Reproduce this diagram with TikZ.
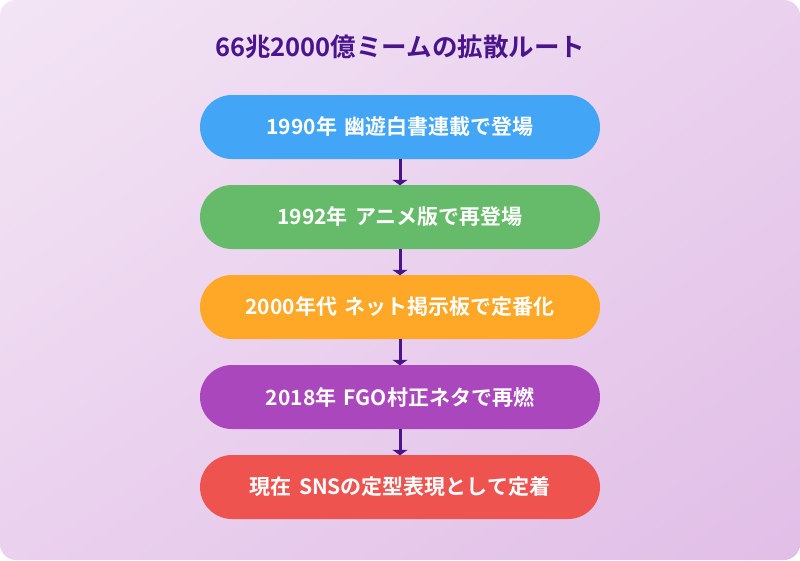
\documentclass[tikz,border=0pt]{standalone}
\usepackage{fontspec}
\setmainfont{Noto Sans CJK JP}
\newfontfamily\cjkbold{Noto Sans CJK JP Bold}
\usetikzlibrary{arrows.meta,shadings}
\definecolor{bgA}{HTML}{F3E5F5}
\definecolor{bgB}{HTML}{E1BEE7}
\definecolor{bgM}{HTML}{EAD1EE}
\definecolor{titlec}{HTML}{4A148C}
\definecolor{cblue}{HTML}{42A5F5}
\definecolor{cgreen}{HTML}{66BB6A}
\definecolor{corange}{HTML}{FFA726}
\definecolor{cpurple}{HTML}{AB47BC}
\definecolor{cred}{HTML}{EF5350}
\newcommand{\gap}{\hspace{0.35em}}
\begin{document}
\begin{tikzpicture}[x=1pt,y=-1pt,
  stepbox/.style={rounded corners=32pt, minimum width=400pt, minimum height=64pt,
    inner sep=0pt, text=white, font=\cjkbold\fontsize{21}{24}\selectfont},
  conn/.style={draw=titlec, line width=3pt, -{Triangle[width=15pt,length=5.5pt]}, shorten >=-0.5pt}]
\useasboundingbox (0,0) rectangle (800,560);
\fill[white] (0,0) rectangle (800,560);
\shade[rounded corners=16pt, upper left=bgA, upper right=bgM, lower left=bgM, lower right=bgB] (0,0) rectangle (800,560);
\node[font=\cjkbold\fontsize{25.5}{30}\selectfont, text=titlec] (title) at (400,47) {66兆2000億ミームの拡散ルート};
\node[stepbox, fill=cblue] (s1) at (400,127) {1990年\gap 幽遊白書連載で登場};
\node[stepbox, fill=cgreen] (s2) at (400,217) {1992年\gap アニメ版で再登場};
\node[stepbox, fill=corange] (s3) at (400,307) {2000年代\gap ネット掲示板で定番化};
\node[stepbox, fill=cpurple] (s4) at (400,397) {2018年\gap FGO村正ネタで再燃};
\node[stepbox, fill=cred] (s5) at (400,487) {現在\gap SNSの定型表現として定着};
\draw[conn] (s1) -- (s2);
\draw[conn] (s2) -- (s3);
\draw[conn] (s3) -- (s4);
\draw[conn] (s4) -- (s5);
\end{tikzpicture}
\end{document}
